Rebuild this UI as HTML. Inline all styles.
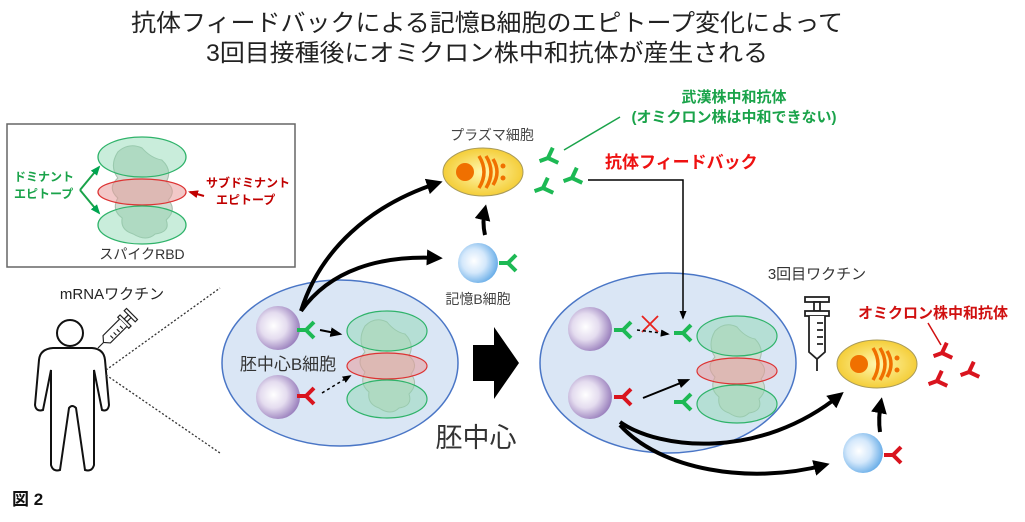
<!DOCTYPE html>
<html><head><meta charset="utf-8"><style>
html,body{margin:0;padding:0;background:#fff;}
svg{display:block;font-family:"Liberation Sans","Noto Sans CJK JP",sans-serif;}
</style></head><body>
<svg width="1025" height="522" viewBox="0 0 1025 522" xmlns="http://www.w3.org/2000/svg">
<defs>
 <radialGradient id="pur" cx="0.4" cy="0.45" r="0.6"><stop offset="0" stop-color="#fff"/><stop offset="0.5" stop-color="#e4dcef"/><stop offset="1" stop-color="#9a80bd"/></radialGradient>
 <radialGradient id="blu" cx="0.4" cy="0.45" r="0.6"><stop offset="0" stop-color="#fff"/><stop offset="0.5" stop-color="#d4e8fb"/><stop offset="1" stop-color="#6aaee8"/></radialGradient>
 <radialGradient id="yel" cx="0.5" cy="0.5" r="0.6"><stop offset="0" stop-color="#fff8b0"/><stop offset="1" stop-color="#f2c521"/></radialGradient>
 <marker id="ah" viewBox="0 0 10 10" refX="7" refY="5" markerWidth="4" markerHeight="4" orient="auto"><path d="M0,0 L10,5 L0,10 z" fill="#000"/></marker>
 <marker id="ahs" viewBox="0 0 10 10" refX="8" refY="5" markerWidth="6" markerHeight="6" orient="auto"><path d="M0,1 L10,5 L0,9 z" fill="#000"/></marker>
 <marker id="ahr" viewBox="0 0 10 10" refX="8" refY="5" markerWidth="5" markerHeight="5" orient="auto"><path d="M0,1 L10,5 L0,9 z" fill="#c00000"/></marker>
 <marker id="ahg" viewBox="0 0 10 10" refX="8" refY="5" markerWidth="5" markerHeight="5" orient="auto"><path d="M0,1 L10,5 L0,9 z" fill="#00a550"/></marker>
 <g id="abg"><path d="M-9,0 H0 L8,-8 M0,0 L8,8" stroke="#1db954" stroke-width="4" fill="none"/></g>
 <g id="abr"><path d="M-9,0 H0 L8,-8 M0,0 L8,8" stroke="#d9141e" stroke-width="4" fill="none"/></g>
 <g id="prot">
  <path d="M-22,-40 q10,-10 22,-4 q8,10 18,12 q10,10 4,22 q10,8 2,18 q8,10 -2,20 q4,12 -10,14 q-8,8 -20,0 q-12,-4 -10,-16 q-10,-8 -4,-20 q-10,-10 0,-20 q-8,-12 0,-26 z" fill="#d0ddd2" stroke="#a9bfae"/>
 </g>
 <g id="rbd">
  <use href="#prot"/>
  <ellipse cx="0" cy="-35" rx="40" ry="20" fill="#88d8b0" fill-opacity="0.45" stroke="#2fb36a" stroke-width="1.2"/>
  <ellipse cx="0" cy="0" rx="40" ry="13" fill="#e89a9a" fill-opacity="0.55" stroke="#d33" stroke-width="1.2"/>
  <ellipse cx="0" cy="33" rx="40" ry="19" fill="#88d8b0" fill-opacity="0.45" stroke="#2fb36a" stroke-width="1.2"/>
 </g>
 <g id="plasma">
  <ellipse cx="0" cy="0" rx="40" ry="24" fill="url(#yel)" stroke="#a89a5a" stroke-width="1"/>
  <circle cx="-18" cy="0" r="9" fill="#f07000"/>
  <path d="M-4,-16 q10,16 0,32 M3,-16 q10,16 0,32 M10,-13 q8,13 0,26" stroke="#f07000" stroke-width="3.5" fill="none"/>
  <circle cx="20" cy="-6" r="2.5" fill="#f07000"/><circle cx="20" cy="6" r="2.5" fill="#f07000"/>
 </g>
 <g id="syr" stroke="#222" stroke-width="1.8" fill="#fff">
  <rect x="-12" y="0" width="24" height="5"/>
  <rect x="-3" y="5" width="6" height="9"/>
  <rect x="-12" y="14" width="24" height="5"/>
  <path d="M-8,19 V55 L0,62 L8,55 V19"/>
  <path d="M0,62 V74" fill="none"/>
  <path d="M0,26 h6 M0,33 h6 M0,40 h6 M0,47 h6" fill="none"/>
 </g>
</defs>

<!-- Title -->
<text x="487" y="31" font-size="24" text-anchor="middle" fill="#222" textLength="712" lengthAdjust="spacingAndGlyphs">抗体フィードバックによる記憶B細胞のエピトープ変化によって</text>
<text x="487" y="61" font-size="24" text-anchor="middle" fill="#222" textLength="562" lengthAdjust="spacingAndGlyphs">3回目接種後にオミクロン株中和抗体が産生される</text>

<!-- RBD box -->
<rect x="7" y="124" width="288" height="143" fill="#fff" stroke="#666" stroke-width="1.5"/>
<g transform="translate(142,192)"><use href="#rbd" transform="scale(1.1,1)"/></g>
<text x="14" y="181" font-size="12" font-weight="bold" fill="#1aa34a">ドミナント</text>
<text x="14" y="198" font-size="12" font-weight="bold" fill="#1aa34a">エピトープ</text>
<path d="M80,190 L99,167" stroke="#1aa34a" stroke-width="2" fill="none" marker-end="url(#ahg)"/>
<path d="M80,190 L99,213" stroke="#1aa34a" stroke-width="2" fill="none" marker-end="url(#ahg)"/>
<text x="206" y="187" font-size="12" font-weight="bold" fill="#c00000">サブドミナント</text>
<text x="216" y="204" font-size="12" font-weight="bold" fill="#c00000">エピトープ</text>
<path d="M204,196 L190,192" stroke="#c00000" stroke-width="2" marker-end="url(#ahr)"/>
<text x="142" y="259" font-size="14" text-anchor="middle" fill="#333">スパイクRBD</text>

<!-- person -->
<text x="112" y="299" font-size="15" text-anchor="middle" fill="#222">mRNAワクチン</text>
<circle cx="70" cy="333" r="13" fill="#fff" stroke="#111" stroke-width="2"/>
<path d="M53,348 H92 Q104,349 105,360 L109,405 Q108,412 102,410 L94,370 L94,465 Q92,472 85,470 L76,408 Q72,404 69,408 L60,470 Q53,472 51,465 L51,370 L43,410 Q36,412 35,405 L39,360 Q40,349 53,348 Z" fill="#fff" stroke="#111" stroke-width="2"/>
<g transform="translate(132,314) rotate(45)"><use href="#syr" transform="scale(0.65)"/></g>
<path d="M106,370 L220,288 M106,375 L220,453" stroke="#333" stroke-width="1.3" stroke-dasharray="2,2" fill="none"/>
<text x="12" y="505" font-size="17" font-weight="bold" fill="#111">図 2</text>

<!-- Left germinal center -->
<ellipse cx="340" cy="363" rx="118" ry="83" fill="#dae6f5" stroke="#4a76c6" stroke-width="1.5"/>
<g transform="translate(387,366)"><use href="#rbd"/></g>
<circle cx="278" cy="328" r="22" fill="url(#pur)"/>
<circle cx="278" cy="397" r="22" fill="url(#pur)"/>
<use href="#abg" x="306" y="330"/>
<use href="#abr" x="306" y="396"/>
<path d="M320,330 L340,334" stroke="#000" stroke-width="2" marker-end="url(#ahs)"/>
<path d="M322,393 L350,376" stroke="#000" stroke-width="1.5" stroke-dasharray="3,3" marker-end="url(#ahs)"/>
<text x="288" y="370" font-size="17" text-anchor="middle" fill="#333">胚中心B細胞</text>
<text x="476" y="447" font-size="27" text-anchor="middle" fill="#333">胚中心</text>
<path d="M473,345 H494 V327 L519,363 L494,399 V381 H473 Z" fill="#000"/>

<!-- arrows to plasma & memory -->
<path d="M301,311 C320,250 370,205 438,183" stroke="#000" stroke-width="4" fill="none" marker-end="url(#ah)"/>
<path d="M301,311 C330,270 380,255 438,258" stroke="#000" stroke-width="4" fill="none" marker-end="url(#ah)"/>

<!-- plasma top -->
<text x="492" y="140" font-size="14" text-anchor="middle" fill="#444">プラズマ細胞</text>
<use href="#plasma" x="483" y="172"/>
<circle cx="478" cy="263" r="20" fill="url(#blu)"/>
<use href="#abg" x="508" y="263"/>
<path d="M485,235 Q482,222 485,209" stroke="#000" stroke-width="4" fill="none" marker-end="url(#ah)"/>
<text x="478" y="304" font-size="14" text-anchor="middle" fill="#444">記憶B細胞</text>
<use href="#abg" transform="translate(548,158) rotate(-20)"/>
<use href="#abg" transform="translate(543,188) rotate(-20)"/>
<use href="#abg" transform="translate(572,178) rotate(-20)"/>
<path d="M564,150 L620,117" stroke="#1aa34a" stroke-width="1.5"/>
<text x="734" y="102" font-size="15" font-weight="bold" text-anchor="middle" fill="#1aa34a">武漢株中和抗体</text>
<text x="734" y="122" font-size="15" font-weight="bold" text-anchor="middle" fill="#1aa34a">(オミクロン株は中和できない)</text>
<text x="605" y="168" font-size="17" font-weight="bold" fill="#ee1111">抗体フィードバック</text>

<!-- Right germinal center -->
<ellipse cx="668" cy="363" rx="128" ry="90" fill="#dae6f5" stroke="#4a76c6" stroke-width="1.5"/>
<path d="M588,180 H683 V318" stroke="#000" stroke-width="1.5" fill="none" marker-end="url(#ahs)"/>
<g transform="translate(737,371)"><use href="#rbd"/></g>
<circle cx="590" cy="329" r="22" fill="url(#pur)"/>
<circle cx="590" cy="397" r="22" fill="url(#pur)"/>
<use href="#abg" x="623" y="330"/>
<use href="#abr" x="623" y="397"/>
<path d="M642,316 L658,332 M658,316 L642,332" stroke="#e8231e" stroke-width="1.8"/>
<path d="M637,330 L668,334" stroke="#000" stroke-width="1.5" stroke-dasharray="3,3" marker-end="url(#ahs)"/>
<use href="#abg" x="683" y="333"/>
<use href="#abg" x="683" y="402"/>
<path d="M643,398 L688,380" stroke="#000" stroke-width="2" marker-end="url(#ahs)"/>
<path d="M620,422 C660,450 760,460 840,395" stroke="#000" stroke-width="4" fill="none" marker-end="url(#ah)"/>
<path d="M620,425 C660,470 750,485 825,465" stroke="#000" stroke-width="4" fill="none" marker-end="url(#ah)"/>

<!-- right side -->
<text x="817" y="279" font-size="15" text-anchor="middle" fill="#333">3回目ワクチン</text>
<use href="#syr" x="817" y="297"/>
<use href="#plasma" x="877" y="364"/>
<text x="933" y="318" font-size="15" font-weight="bold" text-anchor="middle" fill="#d01010">オミクロン株中和抗体</text>
<path d="M928,323 L941,345" stroke="#d01010" stroke-width="1.5"/>
<use href="#abr" transform="translate(942,353) rotate(-20)"/>
<use href="#abr" transform="translate(969,372) rotate(-20)"/>
<use href="#abr" transform="translate(937,381) rotate(-20)"/>
<path d="M880,432 Q878,418 881,402" stroke="#000" stroke-width="4" fill="none" marker-end="url(#ah)"/>
<circle cx="863" cy="453" r="20" fill="url(#blu)"/>
<use href="#abr" x="893" y="455"/>
</svg>
</body></html>
